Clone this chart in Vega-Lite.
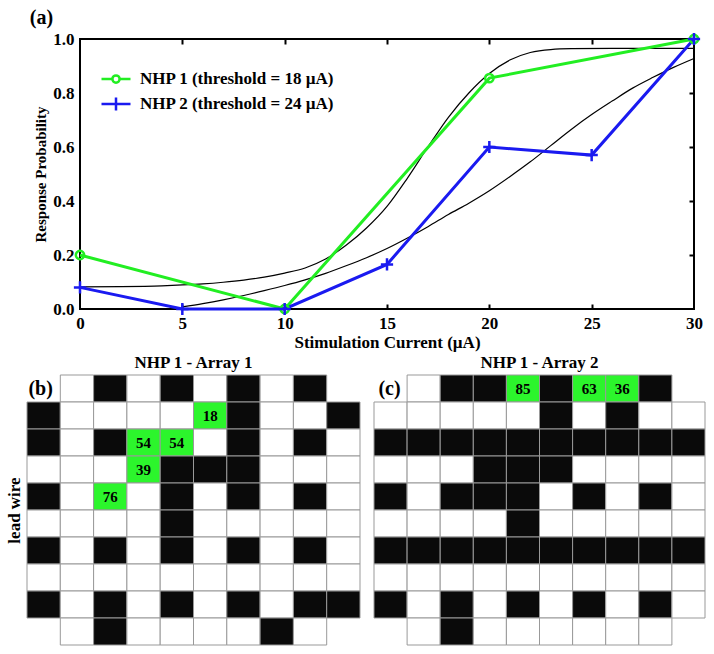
{
  "$schema": "https://vega.github.io/schema/vega-lite/v6.json",
  "background": "white",
  "padding": {"left": 5, "top": 6, "right": 5, "bottom": 5},
  "spacing": 2,
  "vconcat": [
    {
      "spacing": 0,
      "hconcat": [
        {"width": 1, "height": 1, "data": {"values": []}, "mark": "point", "encoding": {}},
        {
          "width": 614,
          "height": 270,
          "view": {"stroke": "#000", "strokeWidth": 2},
          "title": {"text": "(a)", "anchor": "start", "frame": "bounds", "fontSize": 20, "offset": 0, "dx": -4},
          "resolve": {"axis": {"x": "independent", "y": "independent"}},
          "layer": [
            {
              "data": {"values": [
                {"fit": "A", "I": 0, "p": 0.082}, {"fit": "A", "I": 2, "p": 0.083}, {"fit": "A", "I": 4, "p": 0.086},
                {"fit": "A", "I": 5, "p": 0.089}, {"fit": "A", "I": 6, "p": 0.093}, {"fit": "A", "I": 7, "p": 0.099},
                {"fit": "A", "I": 8, "p": 0.107}, {"fit": "A", "I": 9, "p": 0.118}, {"fit": "A", "I": 10, "p": 0.133},
                {"fit": "A", "I": 11, "p": 0.152}, {"fit": "A", "I": 12, "p": 0.185}, {"fit": "A", "I": 13, "p": 0.236},
                {"fit": "A", "I": 14, "p": 0.3}, {"fit": "A", "I": 15, "p": 0.38}, {"fit": "A", "I": 16, "p": 0.485},
                {"fit": "A", "I": 17, "p": 0.6}, {"fit": "A", "I": 18, "p": 0.71}, {"fit": "A", "I": 19, "p": 0.8},
                {"fit": "A", "I": 20, "p": 0.872}, {"fit": "A", "I": 21, "p": 0.922}, {"fit": "A", "I": 22, "p": 0.95},
                {"fit": "A", "I": 23, "p": 0.961}, {"fit": "A", "I": 24, "p": 0.964}, {"fit": "A", "I": 26, "p": 0.965},
                {"fit": "A", "I": 28, "p": 0.965}, {"fit": "A", "I": 30, "p": 0.965},
                {"fit": "B", "I": 5, "p": 0.008}, {"fit": "B", "I": 6, "p": 0.02}, {"fit": "B", "I": 7, "p": 0.034},
                {"fit": "B", "I": 8, "p": 0.05}, {"fit": "B", "I": 9, "p": 0.068}, {"fit": "B", "I": 10, "p": 0.087},
                {"fit": "B", "I": 11, "p": 0.108}, {"fit": "B", "I": 12, "p": 0.132}, {"fit": "B", "I": 13, "p": 0.16},
                {"fit": "B", "I": 14, "p": 0.19}, {"fit": "B", "I": 15, "p": 0.224}, {"fit": "B", "I": 16, "p": 0.263},
                {"fit": "B", "I": 17, "p": 0.305}, {"fit": "B", "I": 18, "p": 0.35}, {"fit": "B", "I": 19, "p": 0.392},
                {"fit": "B", "I": 20, "p": 0.438}, {"fit": "B", "I": 21, "p": 0.49}, {"fit": "B", "I": 22, "p": 0.545},
                {"fit": "B", "I": 23, "p": 0.605}, {"fit": "B", "I": 24, "p": 0.665}, {"fit": "B", "I": 25, "p": 0.72},
                {"fit": "B", "I": 26, "p": 0.77}, {"fit": "B", "I": 27, "p": 0.818}, {"fit": "B", "I": 28, "p": 0.858},
                {"fit": "B", "I": 29, "p": 0.895}, {"fit": "B", "I": 30, "p": 0.928}
              ]},
              "mark": {"type": "line", "color": "#000", "strokeWidth": 1.2, "interpolate": "monotone"},
              "encoding": {
                "x": {"field": "I", "type": "quantitative", "scale": {"domain": [0, 30], "nice": false},
                      "axis": {"title": "Stimulation Current (µA)", "titleFontSize": 17, "values": [0, 5, 10, 15, 20, 25, 30], "ticks": false, "tickSize": 0, "domain": false, "labelPadding": 6, "titlePadding": 3, "labelFlush": false}},
                "y": {"field": "p", "type": "quantitative", "scale": {"domain": [0, 1], "nice": false},
                      "axis": {"title": "Response Probability", "titleFontSize": 15, "values": [0, 0.2, 0.4, 0.6, 0.8, 1], "format": ".1f", "ticks": false, "tickSize": 0, "domain": false, "labelPadding": 6, "titlePadding": 4, "labelFlush": false}},
                "detail": {"field": "fit", "type": "nominal"}
              }
            },
            {
              "data": {"name": "obs", "values": [
                {"series": "NHP 1 (threshold = 18 µA)", "I": 0, "p": 0.2},
                {"series": "NHP 1 (threshold = 18 µA)", "I": 10, "p": 0.0},
                {"series": "NHP 1 (threshold = 18 µA)", "I": 20, "p": 0.855},
                {"series": "NHP 1 (threshold = 18 µA)", "I": 30, "p": 1.0},
                {"series": "NHP 2 (threshold = 24 µA)", "I": 0, "p": 0.08},
                {"series": "NHP 2 (threshold = 24 µA)", "I": 5, "p": 0.0},
                {"series": "NHP 2 (threshold = 24 µA)", "I": 10, "p": 0.0},
                {"series": "NHP 2 (threshold = 24 µA)", "I": 15, "p": 0.165},
                {"series": "NHP 2 (threshold = 24 µA)", "I": 20, "p": 0.6},
                {"series": "NHP 2 (threshold = 24 µA)", "I": 25, "p": 0.57},
                {"series": "NHP 2 (threshold = 24 µA)", "I": 30, "p": 1.0}
              ]},
              "mark": {"type": "line", "strokeWidth": 3},
              "encoding": {
                "x": {"field": "I", "type": "quantitative",
                      "axis": {"orient": "top", "labels": false, "title": null, "domain": false, "tickSize": -5, "tickWidth": 2, "tickColor": "#000", "values": [5, 10, 15, 20, 25]}},
                "y": {"field": "p", "type": "quantitative",
                      "axis": {"orient": "right", "labels": false, "title": null, "domain": false, "tickSize": -5, "tickWidth": 2, "tickColor": "#000", "values": [0.2, 0.4, 0.6, 0.8]}},
                "color": {"field": "series", "type": "nominal",
                          "scale": {"domain": ["NHP 1 (threshold = 18 µA)", "NHP 2 (threshold = 24 µA)"], "range": ["#22ee22", "#1a1af0"]},
                          "legend": {"title": null, "orient": "none", "legendX": 73, "legendY": 24, "padding": 0,
                                     "labelFont": "Liberation Serif", "labelFontWeight": "bold", "labelFontSize": 17, "labelColor": "#000", "labelLimit": 400,
                                     "symbolSize": 841, "symbolStrokeWidth": 2.5, "labelOffset": 8, "rowPadding": 0,
                                     "encode": {"symbols": {"update": {
                                       "shape": {"signal": "datum.index === 0 ? 'M-1,0L-0.28,0M0.28,0L1,0M-0.25,0A0.25,0.25 0 1,1 0.25,0A0.25,0.25 0 1,1 -0.25,0' : 'M-1,0L1,0M0,-0.45L0,0.45'"},
                                       "fill": {"value": "transparent"}}}}}}
              }
            },
            {
              "data": {"name": "obs"},
              "transform": [{"filter": {"field": "series", "equal": "NHP 1 (threshold = 18 µA)"}}],
              "mark": {"type": "point", "shape": "circle", "filled": false, "color": "#22ee22", "size": 70, "strokeWidth": 2.5, "opacity": 1},
              "encoding": {
                "x": {"field": "I", "type": "quantitative",
                      "axis": {"orient": "bottom", "labels": false, "title": null, "domain": false, "tickSize": -5, "tickWidth": 2, "tickColor": "#000", "values": [5, 10, 15, 20, 25]}},
                "y": {"field": "p", "type": "quantitative", "axis": null}
              }
            },
            {
              "data": {"name": "obs"},
              "transform": [{"filter": {"field": "series", "equal": "NHP 2 (threshold = 24 µA)"}}],
              "mark": {"type": "point", "shape": "M-1,0L1,0M0,-1L0,1", "filled": false, "color": "#1a1af0", "size": 150, "strokeWidth": 2.5, "opacity": 1},
              "encoding": {
                "x": {"field": "I", "type": "quantitative", "axis": null},
                "y": {"field": "p", "type": "quantitative", "axis": null}
              }
            }
          ]
        }
      ]
    },
    {
      "spacing": 12,
      "hconcat": [
        {
          "width": 333,
          "height": 270,
          "title": {"text": "NHP 1 - Array 1", "fontSize": 17, "offset": 3},
          "data": {"values": [
            {"r": 0, "c": 0, "lab": "(b)"},
            {"r": 0, "c": 1, "s": "w"}, {"r": 0, "c": 2, "s": "k"}, {"r": 0, "c": 3, "s": "w"}, {"r": 0, "c": 4, "s": "k"},
            {"r": 0, "c": 5, "s": "w"}, {"r": 0, "c": 6, "s": "k"}, {"r": 0, "c": 7, "s": "w"}, {"r": 0, "c": 8, "s": "k"},
            {"r": 1, "c": 0, "s": "k"}, {"r": 1, "c": 1, "s": "w"}, {"r": 1, "c": 2, "s": "w"}, {"r": 1, "c": 3, "s": "w"}, {"r": 1, "c": 4, "s": "w"},
            {"r": 1, "c": 5, "s": "g", "t": "18"}, {"r": 1, "c": 6, "s": "k"}, {"r": 1, "c": 7, "s": "w"}, {"r": 1, "c": 8, "s": "w"}, {"r": 1, "c": 9, "s": "k"},
            {"r": 2, "c": 0, "s": "k"}, {"r": 2, "c": 1, "s": "w"}, {"r": 2, "c": 2, "s": "k"}, {"r": 2, "c": 3, "s": "g", "t": "54"}, {"r": 2, "c": 4, "s": "g", "t": "54"},
            {"r": 2, "c": 5, "s": "w"}, {"r": 2, "c": 6, "s": "k"}, {"r": 2, "c": 7, "s": "w"}, {"r": 2, "c": 8, "s": "k"}, {"r": 2, "c": 9, "s": "w"},
            {"r": 3, "c": 0, "s": "w"}, {"r": 3, "c": 1, "s": "w"}, {"r": 3, "c": 2, "s": "w"}, {"r": 3, "c": 3, "s": "g", "t": "39"}, {"r": 3, "c": 4, "s": "k"},
            {"r": 3, "c": 5, "s": "k"}, {"r": 3, "c": 6, "s": "k"}, {"r": 3, "c": 7, "s": "w"}, {"r": 3, "c": 8, "s": "w"}, {"r": 3, "c": 9, "s": "w"},
            {"r": 4, "c": 0, "s": "k"}, {"r": 4, "c": 1, "s": "w"}, {"r": 4, "c": 2, "s": "g", "t": "76"}, {"r": 4, "c": 3, "s": "w"}, {"r": 4, "c": 4, "s": "k"},
            {"r": 4, "c": 5, "s": "w"}, {"r": 4, "c": 6, "s": "k"}, {"r": 4, "c": 7, "s": "w"}, {"r": 4, "c": 8, "s": "k"}, {"r": 4, "c": 9, "s": "w"},
            {"r": 5, "c": 0, "s": "w"}, {"r": 5, "c": 1, "s": "w"}, {"r": 5, "c": 2, "s": "w"}, {"r": 5, "c": 3, "s": "w"}, {"r": 5, "c": 4, "s": "k"},
            {"r": 5, "c": 5, "s": "w"}, {"r": 5, "c": 6, "s": "w"}, {"r": 5, "c": 7, "s": "w"}, {"r": 5, "c": 8, "s": "w"}, {"r": 5, "c": 9, "s": "w"},
            {"r": 6, "c": 0, "s": "k"}, {"r": 6, "c": 1, "s": "w"}, {"r": 6, "c": 2, "s": "k"}, {"r": 6, "c": 3, "s": "w"}, {"r": 6, "c": 4, "s": "k"},
            {"r": 6, "c": 5, "s": "w"}, {"r": 6, "c": 6, "s": "k"}, {"r": 6, "c": 7, "s": "w"}, {"r": 6, "c": 8, "s": "k"}, {"r": 6, "c": 9, "s": "w"},
            {"r": 7, "c": 0, "s": "w"}, {"r": 7, "c": 1, "s": "w"}, {"r": 7, "c": 2, "s": "w"}, {"r": 7, "c": 3, "s": "w"}, {"r": 7, "c": 4, "s": "w"},
            {"r": 7, "c": 5, "s": "w"}, {"r": 7, "c": 6, "s": "w"}, {"r": 7, "c": 7, "s": "w"}, {"r": 7, "c": 8, "s": "w"}, {"r": 7, "c": 9, "s": "w"},
            {"r": 8, "c": 0, "s": "k"}, {"r": 8, "c": 1, "s": "w"}, {"r": 8, "c": 2, "s": "k"}, {"r": 8, "c": 3, "s": "w"}, {"r": 8, "c": 4, "s": "k"},
            {"r": 8, "c": 5, "s": "w"}, {"r": 8, "c": 6, "s": "k"}, {"r": 8, "c": 7, "s": "w"}, {"r": 8, "c": 8, "s": "k"}, {"r": 8, "c": 9, "s": "k"},
            {"r": 9, "c": 1, "s": "w"}, {"r": 9, "c": 2, "s": "k"}, {"r": 9, "c": 3, "s": "w"}, {"r": 9, "c": 4, "s": "w"},
            {"r": 9, "c": 5, "s": "w"}, {"r": 9, "c": 6, "s": "w"}, {"r": 9, "c": 7, "s": "k"}, {"r": 9, "c": 8, "s": "w"}
          ]},
          "encoding": {
            "x": {"field": "c", "type": "ordinal", "scale": {"domain": [0, 1, 2, 3, 4, 5, 6, 7, 8, 9], "paddingInner": 0, "paddingOuter": 0}, "axis": null},
            "y": {"field": "r", "type": "ordinal", "scale": {"domain": [0, 1, 2, 3, 4, 5, 6, 7, 8, 9], "paddingInner": 0, "paddingOuter": 0},
                  "axis": {"title": "lead wire", "labels": false, "ticks": false, "domain": false, "titleFontSize": 17, "titlePadding": 4}}
          },
          "layer": [
            {
              "transform": [{"filter": "datum.s != null"}],
              "mark": {"type": "rect", "stroke": "#999", "strokeWidth": 1},
              "encoding": {"fill": {"field": "s", "type": "nominal", "scale": {"domain": ["k", "w", "g"], "range": ["#0a0a0a", "#ffffff", "#2cf52c"]}, "legend": null}}
            },
            {
              "transform": [{"filter": "datum.t != null"}],
              "mark": {"type": "text", "font": "Liberation Serif", "fontWeight": "bold", "fontSize": 15, "color": "#000"},
              "encoding": {"text": {"field": "t"}}
            },
            {
              "transform": [{"filter": "datum.lab != null"}],
              "mark": {"type": "text", "font": "Liberation Serif", "fontWeight": "bold", "fontSize": 20, "color": "#000", "dx": -3},
              "encoding": {"text": {"field": "lab"}}
            }
          ]
        },
        {
          "width": 331,
          "height": 270,
          "title": {"text": "NHP 1 - Array 2", "fontSize": 17, "offset": 3},
          "data": {"values": [
            {"r": 0, "c": 0, "lab": "(c)"},
            {"r": 0, "c": 1, "s": "w"}, {"r": 0, "c": 2, "s": "k"}, {"r": 0, "c": 3, "s": "k"}, {"r": 0, "c": 4, "s": "g", "t": "85"},
            {"r": 0, "c": 5, "s": "k"}, {"r": 0, "c": 6, "s": "g", "t": "63"}, {"r": 0, "c": 7, "s": "g", "t": "36"}, {"r": 0, "c": 8, "s": "k"},
            {"r": 1, "c": 0, "s": "w"}, {"r": 1, "c": 1, "s": "w"}, {"r": 1, "c": 2, "s": "w"}, {"r": 1, "c": 3, "s": "w"}, {"r": 1, "c": 4, "s": "w"},
            {"r": 1, "c": 5, "s": "k"}, {"r": 1, "c": 6, "s": "w"}, {"r": 1, "c": 7, "s": "k"}, {"r": 1, "c": 8, "s": "w"}, {"r": 1, "c": 9, "s": "w"},
            {"r": 2, "c": 0, "s": "k"}, {"r": 2, "c": 1, "s": "k"}, {"r": 2, "c": 2, "s": "k"}, {"r": 2, "c": 3, "s": "k"}, {"r": 2, "c": 4, "s": "k"},
            {"r": 2, "c": 5, "s": "k"}, {"r": 2, "c": 6, "s": "k"}, {"r": 2, "c": 7, "s": "k"}, {"r": 2, "c": 8, "s": "k"}, {"r": 2, "c": 9, "s": "k"},
            {"r": 3, "c": 0, "s": "w"}, {"r": 3, "c": 1, "s": "w"}, {"r": 3, "c": 2, "s": "w"}, {"r": 3, "c": 3, "s": "k"}, {"r": 3, "c": 4, "s": "k"},
            {"r": 3, "c": 5, "s": "k"}, {"r": 3, "c": 6, "s": "w"}, {"r": 3, "c": 7, "s": "w"}, {"r": 3, "c": 8, "s": "w"}, {"r": 3, "c": 9, "s": "w"},
            {"r": 4, "c": 0, "s": "k"}, {"r": 4, "c": 1, "s": "w"}, {"r": 4, "c": 2, "s": "k"}, {"r": 4, "c": 3, "s": "k"}, {"r": 4, "c": 4, "s": "k"},
            {"r": 4, "c": 5, "s": "w"}, {"r": 4, "c": 6, "s": "k"}, {"r": 4, "c": 7, "s": "w"}, {"r": 4, "c": 8, "s": "k"}, {"r": 4, "c": 9, "s": "w"},
            {"r": 5, "c": 0, "s": "w"}, {"r": 5, "c": 1, "s": "w"}, {"r": 5, "c": 2, "s": "w"}, {"r": 5, "c": 3, "s": "w"}, {"r": 5, "c": 4, "s": "k"},
            {"r": 5, "c": 5, "s": "w"}, {"r": 5, "c": 6, "s": "w"}, {"r": 5, "c": 7, "s": "w"}, {"r": 5, "c": 8, "s": "w"}, {"r": 5, "c": 9, "s": "w"},
            {"r": 6, "c": 0, "s": "k"}, {"r": 6, "c": 1, "s": "k"}, {"r": 6, "c": 2, "s": "k"}, {"r": 6, "c": 3, "s": "k"}, {"r": 6, "c": 4, "s": "k"},
            {"r": 6, "c": 5, "s": "k"}, {"r": 6, "c": 6, "s": "k"}, {"r": 6, "c": 7, "s": "k"}, {"r": 6, "c": 8, "s": "k"}, {"r": 6, "c": 9, "s": "k"},
            {"r": 7, "c": 0, "s": "w"}, {"r": 7, "c": 1, "s": "w"}, {"r": 7, "c": 2, "s": "w"}, {"r": 7, "c": 3, "s": "w"}, {"r": 7, "c": 4, "s": "w"},
            {"r": 7, "c": 5, "s": "w"}, {"r": 7, "c": 6, "s": "w"}, {"r": 7, "c": 7, "s": "w"}, {"r": 7, "c": 8, "s": "w"}, {"r": 7, "c": 9, "s": "w"},
            {"r": 8, "c": 0, "s": "k"}, {"r": 8, "c": 1, "s": "w"}, {"r": 8, "c": 2, "s": "k"}, {"r": 8, "c": 3, "s": "w"}, {"r": 8, "c": 4, "s": "k"},
            {"r": 8, "c": 5, "s": "w"}, {"r": 8, "c": 6, "s": "k"}, {"r": 8, "c": 7, "s": "w"}, {"r": 8, "c": 8, "s": "k"}, {"r": 8, "c": 9, "s": "w"},
            {"r": 9, "c": 1, "s": "w"}, {"r": 9, "c": 2, "s": "k"}, {"r": 9, "c": 3, "s": "w"}, {"r": 9, "c": 4, "s": "w"},
            {"r": 9, "c": 5, "s": "w"}, {"r": 9, "c": 6, "s": "w"}, {"r": 9, "c": 7, "s": "w"}, {"r": 9, "c": 8, "s": "w"}
          ]},
          "encoding": {
            "x": {"field": "c", "type": "ordinal", "scale": {"domain": [0, 1, 2, 3, 4, 5, 6, 7, 8, 9], "paddingInner": 0, "paddingOuter": 0}, "axis": null},
            "y": {"field": "r", "type": "ordinal", "scale": {"domain": [0, 1, 2, 3, 4, 5, 6, 7, 8, 9], "paddingInner": 0, "paddingOuter": 0}, "axis": null}
          },
          "layer": [
            {
              "transform": [{"filter": "datum.s != null"}],
              "mark": {"type": "rect", "stroke": "#999", "strokeWidth": 1},
              "encoding": {"fill": {"field": "s", "type": "nominal", "scale": {"domain": ["k", "w", "g"], "range": ["#0a0a0a", "#ffffff", "#2cf52c"]}, "legend": null}}
            },
            {
              "transform": [{"filter": "datum.t != null"}],
              "mark": {"type": "text", "font": "Liberation Serif", "fontWeight": "bold", "fontSize": 15, "color": "#000"},
              "encoding": {"text": {"field": "t"}}
            },
            {
              "transform": [{"filter": "datum.lab != null"}],
              "mark": {"type": "text", "font": "Liberation Serif", "fontWeight": "bold", "fontSize": 20, "color": "#000", "dx": -1},
              "encoding": {"text": {"field": "lab"}}
            }
          ]
        }
      ]
    }
  ],
  "config": {
    "font": "Liberation Serif",
    "view": {"stroke": null},
    "axis": {"labelFont": "Liberation Serif", "titleFont": "Liberation Serif", "labelFontWeight": "bold", "titleFontWeight": "bold",
             "labelFontSize": 17, "titleFontSize": 16, "labelColor": "#000", "titleColor": "#000", "grid": false},
    "title": {"font": "Liberation Serif", "fontWeight": "bold", "color": "#000"}
  }
}
